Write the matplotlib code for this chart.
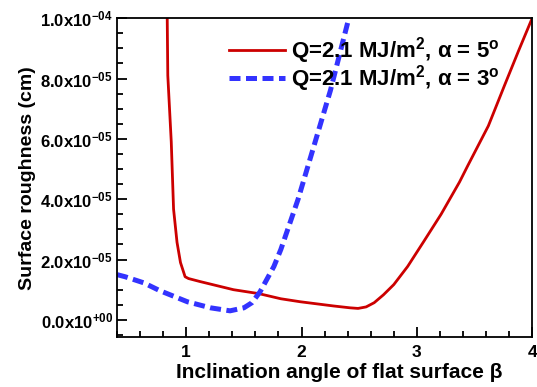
import matplotlib
matplotlib.use('Agg')
import matplotlib.pyplot as plt
from matplotlib.ticker import MultipleLocator, FuncFormatter

plt.rcParams['font.family'] = ['Liberation Sans', 'DejaVu Sans']
plt.rcParams['font.weight'] = 'bold'
plt.rcParams['mathtext.fontset'] = 'custom'
plt.rcParams['mathtext.bf'] = 'Liberation Sans:bold'
plt.rcParams['mathtext.rm'] = 'Liberation Sans:bold'
plt.rcParams['mathtext.default'] = 'bf'

# roughness in units of 1e-5 cm
beta_a5 = [0.835, 0.84, 0.87, 0.89, 0.92, 0.95, 0.99, 1.02, 1.12, 1.41, 1.63,
           1.82, 1.99, 2.28, 2.42, 2.49, 2.56, 2.63, 2.71, 2.80, 2.92, 3.06,
           3.21, 3.37, 3.44, 3.62, 3.76, 3.88, 4.0]
rough_a5 = [10.0, 8.1, 5.9, 3.67, 2.57, 1.9, 1.43, 1.37, 1.27, 1.0, 0.87,
            0.7, 0.6, 0.46, 0.4, 0.38, 0.43, 0.57, 0.83, 1.17, 1.77, 2.6,
            3.5, 4.57, 5.1, 6.43, 7.77, 8.9, 10.0]

beta_a3 = [0.40, 0.47, 0.63, 0.77, 1.01, 1.21, 1.38, 1.50, 1.57, 1.64,
           1.76, 1.82, 1.97, 2.10, 2.25, 2.41]
rough_a3 = [1.5, 1.43, 1.23, 0.97, 0.6, 0.4, 0.3, 0.4, 0.57, 0.93,
            1.77, 2.33, 4.0, 5.67, 7.6, 10.0]

labels = ['Q=2.1 MJ/m$^2$, \u03b1 = 5$^o$', 'Q=2.1 MJ/m$^2$, \u03b1 = 3$^o$']

fig = plt.figure(figsize=(5.37, 3.87), dpi=100)
ax = fig.add_axes([0.218, 0.129, 0.773, 0.824])

ax.plot(beta_a5, [v * 1e-5 for v in rough_a5], color='#CC0000', lw=2.0,
        label=labels[0])
ax.plot(beta_a3, [v * 1e-5 for v in rough_a3], color='#3333FF', lw=3.6,
        dashes=(2.2, 1.1), dash_capstyle='butt', label=labels[1])

ax.set_xlim(0.4, 4.0)
ax.set_ylim(-0.57e-5, 1.0e-4)
ax.xaxis.set_major_locator(MultipleLocator(1))
ax.xaxis.set_minor_locator(MultipleLocator(0.2))
ax.yaxis.set_major_locator(MultipleLocator(2e-5))
ax.yaxis.set_minor_locator(MultipleLocator(0.5e-5))

def yfmt(v, pos):
    if abs(v) < 1e-12:
        return '0.0x10$^{+00}$'
    e = int(f'{v:.1e}'.split('e')[1])
    m = v / 10**e
    return f'{m:.1f}x10$^{{-{abs(e):02d}}}$'

ax.yaxis.set_major_formatter(FuncFormatter(yfmt))
ax.xaxis.set_major_formatter(FuncFormatter(lambda v, p: f'{v:.0f}'))

ax.tick_params(which='both', direction='in', top=False, right=False,
               width=1.3)
ax.tick_params(which='major', length=7)
ax.tick_params(which='minor', length=4)
ax.tick_params(axis='y', labelsize=12, pad=3)
ax.tick_params(axis='x', labelsize=12.5, pad=6)
for s in ax.spines.values():
    s.set_linewidth(1.3)

ax.set_xlabel('Inclination angle of flat surface \u03b2', fontsize=15,
              fontweight='bold')
ax.xaxis.set_label_coords(0.535, -0.08)
ax.set_ylabel('Surface roughness (cm)', fontsize=14, fontweight='bold',
              labelpad=3)

ax.legend(loc='upper right', frameon=False, fontsize=16, handlelength=2.5,
          handletextpad=0.3, labelspacing=-0.12, borderaxespad=0.3,
          bbox_to_anchor=(0.96, 0.995))

fig.savefig('out.png', dpi=100)
